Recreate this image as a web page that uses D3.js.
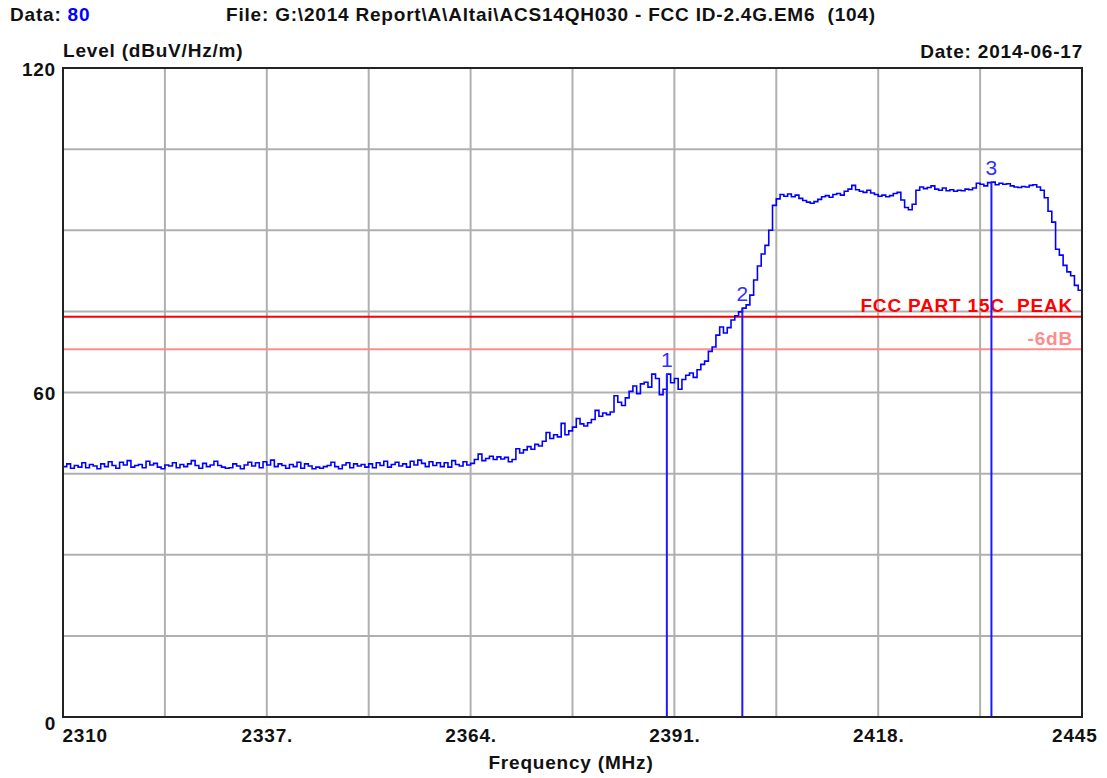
<!DOCTYPE html>
<html>
<head>
<meta charset="utf-8">
<script src="https://cdn.jsdelivr.net/npm/d3@7"></script>
<style>
  html, body { margin: 0; padding: 0; background: #fff; }
  svg text { font-family: "Liberation Sans", Arial, sans-serif; white-space: pre; }
</style>
</head>
<body>
<svg id="chart" width="1107" height="778"></svg>
<script>
// Sweep settings (MHz) and measured level (dBuV/Hz/m), one reading every 0.5 MHz
const freqStart = 2310;
const freqStep = 0.5;
const levels = [
  46.3, 46.8, 46.0, 46.5, 46.2, 47.0, 46.1, 46.7, 46.4, 45.9,
  46.8, 46.3, 47.2, 46.5, 46.0, 47.1, 46.6, 47.4, 46.2, 46.5,
  46.7, 46.1, 47.3, 46.6, 46.9, 46.2, 45.9, 46.6, 46.4, 47.0,
  46.1, 46.7, 46.3, 46.8, 47.4, 46.5, 46.0, 46.9, 46.3, 46.6,
  47.3, 46.5, 46.2, 46.0, 46.1, 46.8, 46.4, 45.9, 46.6, 47.1,
  46.4, 47.0, 46.1, 47.2, 46.6, 47.5, 46.3, 46.8, 46.5, 46.0,
  46.7, 46.3, 47.1, 46.0, 46.8, 46.4, 45.9, 46.2, 46.0, 46.3,
  46.5, 47.1, 46.3, 45.9, 46.6, 47.0, 46.1, 46.8, 46.4, 46.7,
  46.2, 46.8, 46.1, 47.0, 46.5, 47.3, 46.2, 46.7, 47.1, 46.4,
  46.8, 46.2, 47.3, 46.6, 47.5, 46.9, 46.3, 47.2, 46.5, 47.0,
  46.3, 47.0, 46.2, 47.4, 46.7, 46.4, 47.2, 46.6, 46.9, 47.6,
  48.6, 47.4, 47.8, 48.2, 47.6, 48.1, 47.7, 48.0, 47.2, 47.6,
  49.6, 48.8, 49.4, 50.0, 49.5, 50.4, 50.1, 51.0, 52.6, 51.5,
  52.2, 51.8, 54.3, 52.2, 52.9, 53.6, 55.2, 54.2, 53.8, 54.4,
  55.0, 56.7, 55.6, 56.2, 55.9, 56.4, 59.4, 58.2, 57.6, 59.0,
  60.2, 61.2, 59.8, 61.6, 61.9, 61.0, 63.4, 62.6, 59.6, 60.6,
  63.4, 61.8, 62.6, 60.6, 62.4, 63.2, 63.6, 62.8, 64.2, 65.2,
  65.8, 67.6, 68.4, 70.6, 72.1, 71.0, 72.0, 73.4, 74.2, 74.9,
  75.6, 76.2, 78.0, 80.8, 83.4, 85.6, 87.2, 90.0, 94.6, 95.8,
  96.6, 96.3, 96.7, 96.2, 96.5, 95.9, 95.5, 95.2, 95.0, 95.3,
  95.7, 96.2, 96.4, 96.1, 96.6, 96.8, 96.5, 97.2, 97.6, 98.3,
  97.5, 97.2, 97.0, 97.4, 96.9, 96.6, 96.3, 96.5, 96.2, 96.4,
  96.8, 97.0, 95.6, 94.2, 93.8, 94.8, 97.4, 98.0, 97.7, 97.9,
  98.2, 97.6, 97.4, 97.8, 97.3, 97.5, 97.2, 97.4, 97.3, 97.6,
  97.5, 97.8, 98.7, 98.5, 98.2, 98.8, 98.9, 98.4, 98.7, 98.5,
  98.6, 98.2, 98.0, 97.9, 98.1, 98.0, 98.3, 98.4, 98.0, 97.4,
  96.0, 93.5, 91.5, 86.5, 85.4, 83.5, 82.3, 81.6, 79.8, 78.9,
  78.0
];

// Axis ranges, grid and tick labels
const freqDomain = [2310, 2445];
const levelDomain = [0, 120];
const freqGrid = [2310, 2323.5, 2337, 2350.5, 2364, 2377.5, 2391, 2404.5, 2418, 2431.5, 2445];
const freqTickValues = [2310, 2337, 2364, 2391, 2418, 2445];
const freqTickLabels = ["2310", "2337.", "2364.", "2391.", "2418.", "2445"];
const levelGrid = [15, 30, 45, 60, 75, 90, 105];
const levelTickValues = [0, 60, 120];
const levelTickLabels = ["0", "60", "120"];

// Limit lines
const limitNames = ["FCC PART 15C  PEAK", "-6dB"];
const limitLevels = [74, 68];

// Markers
const markerIds = ["1", "2", "3"];
const markerFreqs = [2390, 2400, 2433];

const plot = { left: 63, right: 1082, top: 68, bottom: 717 };
const svg = d3.select("#chart");
const fontSize = 19;
const spacing = "0.8px";

const x = d3.scaleLinear().domain(freqDomain).range([plot.left, plot.right]);
const y = d3.scaleLinear().domain(levelDomain).range([plot.bottom, plot.top]);

const data = levels.map((v, i) => ({ f: freqStart + i * freqStep, v }));
const levelAt = f => data[Math.round((f - freqStart) / freqStep)].v;

// Grid
const gridColor = "#b0b0b0";
svg.append("g").selectAll("line").data(freqGrid.slice(1, -1)).join("line")
  .attr("x1", d => x(d)).attr("x2", d => x(d))
  .attr("y1", plot.top).attr("y2", plot.bottom)
  .attr("stroke", gridColor).attr("stroke-width", 2);
svg.append("g").selectAll("line").data(levelGrid).join("line")
  .attr("x1", plot.left).attr("x2", plot.right)
  .attr("y1", d => y(d)).attr("y2", d => y(d))
  .attr("stroke", gridColor).attr("stroke-width", 2);

// Limit lines
const limitColors = ["#ff0000", "#ff8c8c"];
svg.append("g").selectAll("line").data(limitLevels).join("line")
  .attr("x1", plot.left).attr("x2", plot.right)
  .attr("y1", d => y(d)).attr("y2", d => y(d))
  .attr("stroke", (d, i) => limitColors[i]).attr("stroke-width", 2);
svg.append("g").selectAll("text").data(limitLevels).join("text")
  .attr("x", plot.right - 9)
  .attr("y", (d, i) => i === 0 ? y(d) - 5 : y(d) - 4)
  .attr("text-anchor", "end")
  .attr("font-size", fontSize).attr("font-weight", "bold")
  .attr("letter-spacing", spacing)
  .attr("fill", (d, i) => limitColors[i])
  .text((d, i) => limitNames[i]);

// Trace
svg.append("path").datum(data)
  .attr("fill", "none").attr("stroke", "#0000ff").attr("stroke-width", 1.6)
  .attr("d", d3.line().x(d => x(d.f)).y(d => y(d.v)).curve(d3.curveStepAfter));

// Markers
const markerG = svg.append("g").selectAll("g").data(markerFreqs).join("g");
markerG.append("line")
  .attr("x1", d => x(d)).attr("x2", d => x(d))
  .attr("y1", plot.bottom).attr("y2", d => y(levelAt(d)))
  .attr("stroke", "#1a1aff").attr("stroke-width", 2);
markerG.append("text")
  .attr("x", d => x(d)).attr("y", d => y(levelAt(d)) - 7)
  .attr("text-anchor", "middle").attr("font-size", 21)
  .attr("fill", "#3030ff")
  .text((d, i) => markerIds[i]);

// Frame
svg.append("rect")
  .attr("x", plot.left).attr("y", plot.top)
  .attr("width", plot.right - plot.left).attr("height", plot.bottom - plot.top)
  .attr("fill", "none").attr("stroke", "#222").attr("stroke-width", 2);

// Axis labels
const xAxis = d3.axisBottom(x).tickValues(freqTickValues).tickSize(0)
  .tickFormat((d, i) => freqTickLabels[i]);
const gx = svg.append("g").attr("transform", `translate(0,${plot.bottom})`).call(xAxis);
gx.select(".domain").remove();
gx.selectAll("text")
  .attr("font-family", "Liberation Sans, Arial, sans-serif")
  .attr("font-size", fontSize).attr("font-weight", "bold").attr("fill", "#111")
  .attr("letter-spacing", spacing)
  .attr("y", 25).attr("dy", null)
  .attr("text-anchor", (d, i) => i === 0 ? "start" : (i === freqTickValues.length - 1 ? "end" : "middle"))
  .attr("dx", (d, i) => i === 0 ? -1 : (i === freqTickValues.length - 1 ? 15 : 0));

const yAxis = d3.axisLeft(y).tickValues(levelTickValues).tickSize(0)
  .tickFormat((d, i) => levelTickLabels[i]);
const gy = svg.append("g").attr("transform", `translate(${plot.left - 7},0)`).call(yAxis);
gy.select(".domain").remove();
gy.selectAll("text")
  .attr("font-family", "Liberation Sans, Arial, sans-serif")
  .attr("font-size", fontSize).attr("font-weight", "bold").attr("fill", "#111")
  .attr("letter-spacing", spacing)
  .attr("x", 0)
  .attr("dy", d => d === 0 ? "12px" : "7px");

// Header texts
const header = svg.append("g").attr("font-size", fontSize).attr("font-weight", "bold")
  .attr("fill", "#111").attr("letter-spacing", spacing);
const dataLabel = header.append("text").attr("x", 10).attr("y", 21);
dataLabel.append("tspan").text("Data: ");
dataLabel.append("tspan").attr("fill", "#0000ff").text("80");
header.append("text").attr("x", 226).attr("y", 21)
  .text("File: G:\\2014 Report\\A\\Altai\\ACS14QH030 - FCC ID-2.4G.EM6  (104)");
header.append("text").attr("x", 63).attr("y", 57).text("Level (dBuV/Hz/m)");
header.append("text").attr("x", 1083).attr("y", 58).attr("text-anchor", "end").text("Date: 2014-06-17");
header.append("text").attr("x", 571).attr("y", 769).attr("text-anchor", "middle").text("Frequency (MHz)");
</script>
</body>
</html>
